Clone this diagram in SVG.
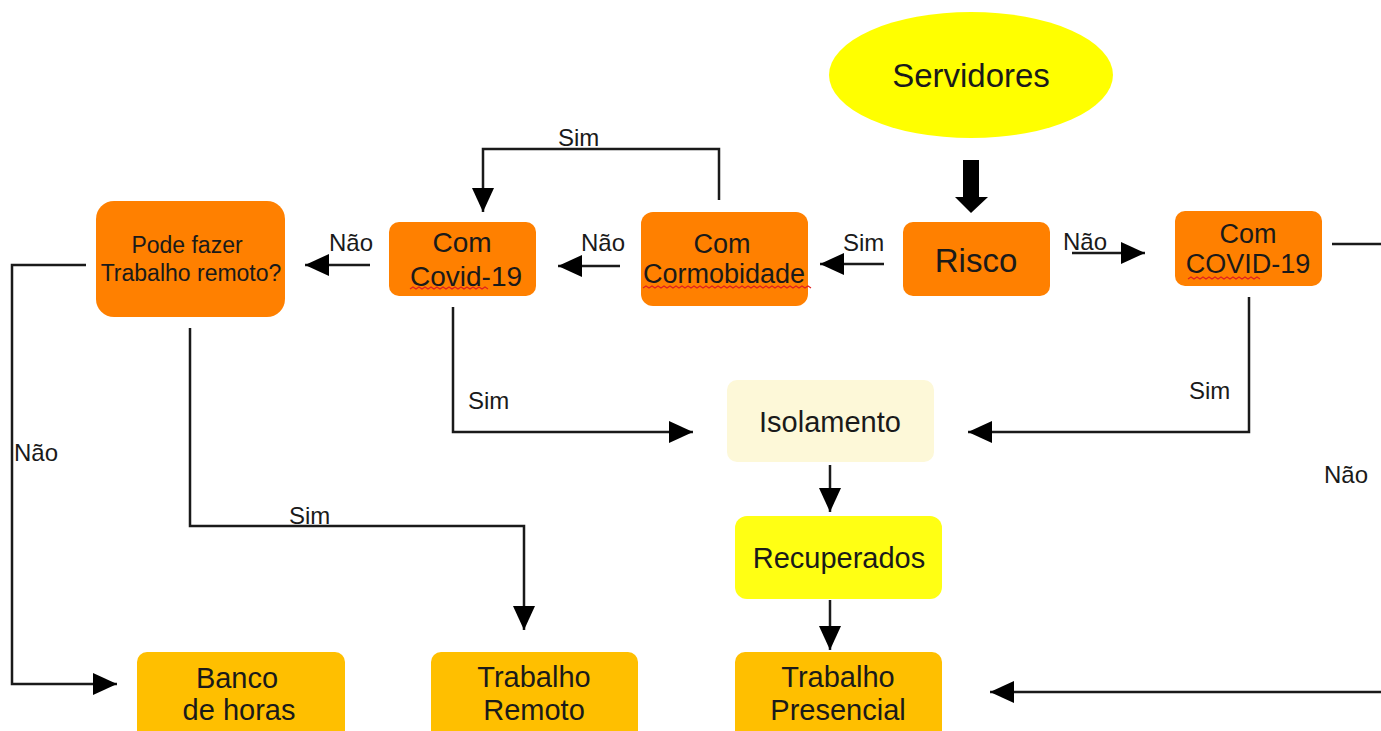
<svg xmlns="http://www.w3.org/2000/svg" width="1381" height="731" viewBox="0 0 1381 731">
<defs>
<style>
.t{font-family:"Liberation Sans",Arial,sans-serif;fill:#1a1a1a;text-anchor:middle}
.l{font-family:"Liberation Sans",Arial,sans-serif;fill:#1a1a1a;font-size:24px}
.c{fill:none;stroke:#1a1a1a;stroke-width:2.5}
.org{fill:#ff8000}
.gold{fill:#ffbf00}
.sq{fill:none;stroke:#e02020;stroke-width:1.2}
</style>
<marker id="a" viewBox="0 0 24 22" refX="24" refY="11" markerWidth="24" markerHeight="22" markerUnits="userSpaceOnUse" orient="auto">
<path d="M0,0 L24,11 L0,22 z" fill="#000"/>
</marker>
</defs>
<rect width="1381" height="731" fill="#fff"/>

<g id="servidores">
<ellipse cx="971" cy="75" rx="142" ry="63" fill="#ffff00"/>
<text class="t" x="971" y="87" font-size="33">Servidores</text>
</g>

<g id="risco">
<rect class="org" x="903" y="222" width="147" height="74" rx="10"/>
<text class="t" x="976" y="272" font-size="33">Risco</text>
</g>

<g id="com-covid-right">
<rect class="org" x="1175" y="211" width="147" height="75" rx="10"/>
<text class="t" x="1248" y="243" font-size="27">Com</text>
<text class="t" x="1248" y="273" font-size="27">COVID-19</text>
<path class="sq" d="M1188,279 l3,-2 3,2 3,-2 3,2 3,-2 3,2 3,-2 3,2 3,-2 3,2 3,-2 3,2 3,-2 3,2 3,-2 3,2 3,-2 3,2 3,-2 3,2 3,-2 3,2 3,-2 3,2"/>
</g>

<g id="com-cormobidade">
<rect class="org" x="641" y="212" width="167" height="94" rx="12"/>
<text class="t" x="722" y="253" font-size="27">Com</text>
<text class="t" x="724" y="283" font-size="27">Cormobidade</text>
<path class="sq" d="M643,288 l3,-2 3,2 3,-2 3,2 3,-2 3,2 3,-2 3,2 3,-2 3,2 3,-2 3,2 3,-2 3,2 3,-2 3,2 3,-2 3,2 3,-2 3,2 3,-2 3,2 3,-2 3,2 3,-2 3,2 3,-2 3,2 3,-2 3,2 3,-2 3,2 3,-2 3,2 3,-2 3,2 3,-2 3,2 3,-2 3,2 3,-2 3,2 3,-2 3,2 3,-2 3,2 3,-2 3,2 3,-2 3,2 3,-2 3,2 3,-2 3,2 3,-2 3,2"/>
</g>

<g id="com-covid-left">
<rect class="org" x="389" y="222" width="147" height="74" rx="10"/>
<text class="t" x="462" y="252" font-size="28">Com</text>
<text class="t" x="466" y="286" font-size="28">Covid-19</text>
<path class="sq" d="M410,289 l3,-2 3,2 3,-2 3,2 3,-2 3,2 3,-2 3,2 3,-2 3,2 3,-2 3,2 3,-2 3,2 3,-2 3,2 3,-2 3,2 3,-2 3,2 3,-2 3,2 3,-2 3,2 3,-2 3,2"/>
</g>

<g id="pode-fazer">
<rect class="org" x="96" y="201" width="189" height="116" rx="18"/>
<text class="t" x="187" y="253" font-size="23">Pode fazer</text>
<text class="t" x="191" y="281" font-size="23">Trabalho remoto?</text>
</g>

<g id="isolamento">
<rect x="727" y="380" width="207" height="82" rx="10" fill="#fdf8d8"/>
<text class="t" x="830" y="432" font-size="29">Isolamento</text>
</g>

<g id="recuperados">
<rect x="735" y="516" width="207" height="83" rx="12" fill="#ffff14"/>
<text class="t" x="839" y="568" font-size="29">Recuperados</text>
</g>

<g id="trabalho-presencial">
<rect class="gold" x="735" y="652" width="207" height="90" rx="10"/>
<text class="t" x="838" y="687" font-size="29">Trabalho</text>
<text class="t" x="838" y="720" font-size="29">Presencial</text>
</g>

<g id="banco-horas">
<rect class="gold" x="137" y="652" width="208" height="90" rx="10"/>
<text class="t" x="237" y="688" font-size="29">Banco</text>
<text class="t" x="239" y="720" font-size="29">de horas</text>
</g>

<g id="trabalho-remoto">
<rect class="gold" x="431" y="652" width="207" height="90" rx="10"/>
<text class="t" x="534" y="687" font-size="29">Trabalho</text>
<text class="t" x="534" y="720" font-size="29">Remoto</text>
</g>

<g id="connectors">
<path d="M963,160 H979 V197 H988 L971,213 L955,197 H963 Z" fill="#000"/>
<path class="c" d="M884,264 H820" marker-end="url(#a)"/>
<path class="c" d="M620,266 H558" marker-end="url(#a)"/>
<path class="c" d="M370,265 H305" marker-end="url(#a)"/>
<path class="c" d="M1072,253 H1145" marker-end="url(#a)"/>
<path class="c" d="M719,200 V149 H483 V212" marker-end="url(#a)"/>
<path class="c" d="M453,307 V432 H693" marker-end="url(#a)"/>
<path class="c" d="M1249,297 V432 H968" marker-end="url(#a)"/>
<path class="c" d="M830,465 V512" marker-end="url(#a)"/>
<path class="c" d="M830,600 V650" marker-end="url(#a)"/>
<path class="c" d="M86,265 H12 V684 H117" marker-end="url(#a)"/>
<path class="c" d="M190,328 V526 H524 V630" marker-end="url(#a)"/>
<path class="c" d="M1332,244 H1381"/>
<path class="c" d="M1381,692 H990" marker-end="url(#a)"/>

<text class="l" x="558" y="146">Sim</text>
<text class="l" x="843" y="251">Sim</text>
<text class="l" x="581" y="251">Não</text>
<text class="l" x="329" y="251">Não</text>
<text class="l" x="1063" y="250">Não</text>
<text class="l" x="468" y="409">Sim</text>
<text class="l" x="1189" y="399">Sim</text>
<text class="l" x="14" y="461">Não</text>
<text class="l" x="289" y="524">Sim</text>
<text class="l" x="1324" y="483">Não</text>
</g>
</svg>
